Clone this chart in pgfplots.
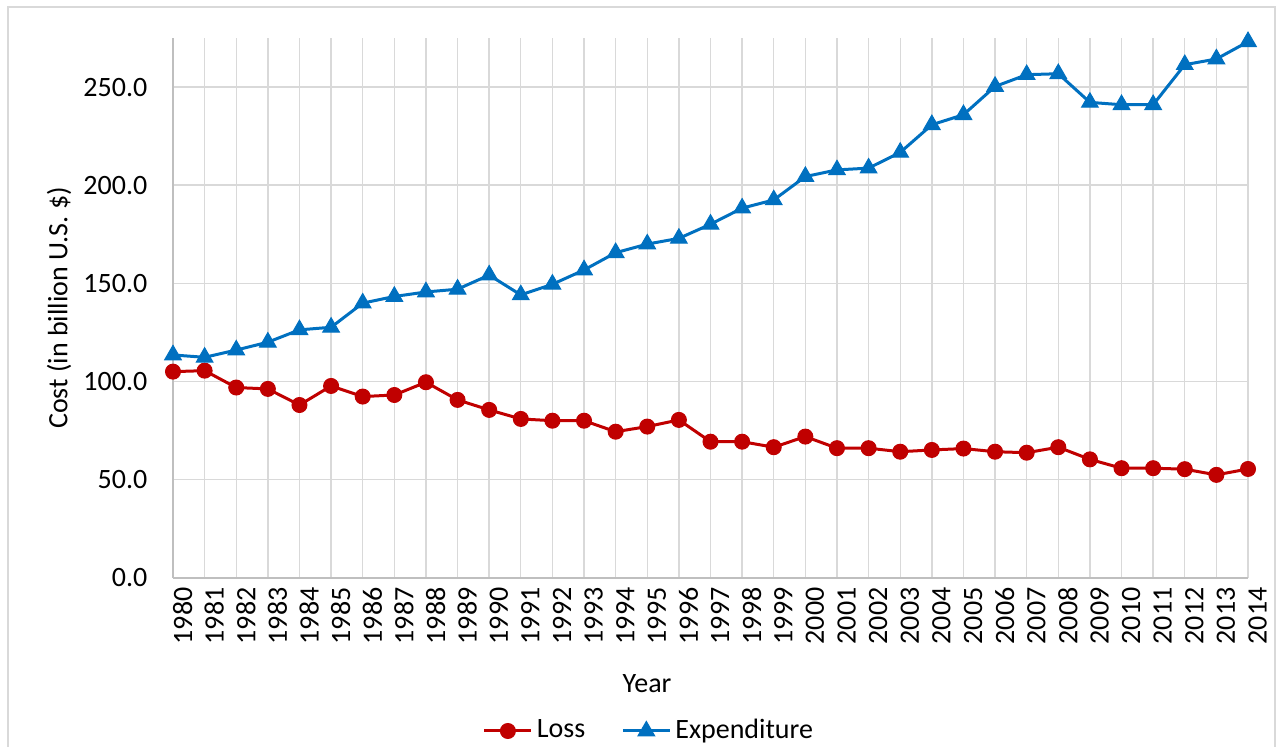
\documentclass[border=0pt]{standalone}
\usepackage{pgfplots}
\pgfplotsset{compat=1.18}
\usepackage{fontspec}
\setmainfont{Carlito}

\definecolor{lossred}{HTML}{C00000}
\definecolor{expblue}{HTML}{0070C0}
\definecolor{gridgray}{HTML}{D9D9D9}
\definecolor{axisgray}{HTML}{BFBFBF}

\begin{document}
\begin{tikzpicture}
\fontsize{14}{16.8}\selectfont
\begin{axis}[
  at={(86.5pt,84.15pt)}, anchor=south west,
  scale only axis,
  width=537.5pt, height=269.85pt,
  xmin=1980, xmax=2014,
  ymin=0, ymax=275,
  clip=false,
  axis lines*=left,
  axis line style={draw=axisgray, line width=0.8pt},
  xmajorgrids, ymajorgrids,
  grid style={draw=gridgray, line width=0.7pt},
  major tick length=0pt,
  xtick={1980,1981,...,2014},
  ytick={0,50,100,150,200,250},
  /pgf/number format/assume math mode=true,
  tick label style={font=\fontsize{14}{16.8}\selectfont, text=black},
  xticklabel style={rotate=90, anchor=east, yshift=-4.8pt, /pgf/number format/1000 sep={}},
  yticklabel style={xshift=-8pt, /pgf/number format/.cd, fixed, fixed zerofill, precision=1},
  xlabel={Year},
  ylabel={Cost (in billion U.S. \$)},
  label style={font=\fontsize{14}{16.8}\selectfont},
  xlabel style={at={(axis description cs:0.441,-0.197)}, anchor=center},
  ylabel style={at={(axis description cs:-0.106,0.5)}, anchor=center},
  legend columns=2,
  legend style={at={(axis description cs:0.4437,-0.284)}, anchor=center,
    draw=none, fill=none, font=\fontsize{14}{16.8}\selectfont,
    /tikz/every even column/.append style={column sep=16pt}},
  legend image code/.code={\draw[mark repeat=2, mark phase=2, #1]
    plot coordinates {(0pt,0pt) (11.75pt,0pt) (23.5pt,0pt)};},
]
\addplot[color=lossred, line width=1.5pt, mark=*, mark size=3.75pt,
  mark options={solid, fill=lossred, draw=lossred, line width=0.5pt}]
  coordinates {
  (1980,105.0) (1981,105.5) (1982,96.9) (1983,96.2) (1984,88.0)
  (1985,97.7) (1986,92.3) (1987,93.1) (1988,99.6) (1989,90.6)
  (1990,85.5) (1991,80.9) (1992,80.0) (1993,80.0) (1994,74.4)
  (1995,77.0) (1996,80.4) (1997,69.3) (1998,69.3) (1999,66.5)
  (2000,71.9) (2001,66.0) (2002,66.0) (2003,64.2) (2004,65.1)
  (2005,65.8) (2006,64.2) (2007,63.7) (2008,66.5) (2009,60.3)
  (2010,55.8) (2011,55.8) (2012,55.3) (2013,52.4) (2014,55.4)
  };
\addlegendentry{Loss}
\addplot[color=expblue, line width=1.5pt, mark=triangle*, mark size=4.8pt,
  mark options={solid, fill=expblue, draw=expblue, line width=0.5pt}]
  coordinates {
  (1980,113.5) (1981,112.3) (1982,116.0) (1983,120.0) (1984,126.3)
  (1985,127.6) (1986,139.9) (1987,143.3) (1988,145.6) (1989,147.0)
  (1990,154.2) (1991,144.1) (1992,149.5) (1993,156.8) (1994,165.6)
  (1995,170.0) (1996,172.9) (1997,180.1) (1998,188.3) (1999,192.5)
  (2000,204.4) (2001,207.8) (2002,208.7) (2003,216.7) (2004,230.8)
  (2005,235.9) (2006,250.3) (2007,256.3) (2008,256.8) (2009,242.2)
  (2010,241.0) (2011,241.0) (2012,261.4) (2013,264.3) (2014,273.1)
  };
\addlegendentry{Expenditure}
\end{axis}
% chart area frame, running past the lower edge of the page
\draw[gridgray, line width=0.8pt] (4pt,-10pt) -- (4pt,369.35pt) -- (637.6pt,369.35pt) -- (637.6pt,-10pt);
\pgfresetboundingbox
\path[use as bounding box] (0pt,0pt) rectangle (638.5pt,373pt);
\end{tikzpicture}
\end{document}
